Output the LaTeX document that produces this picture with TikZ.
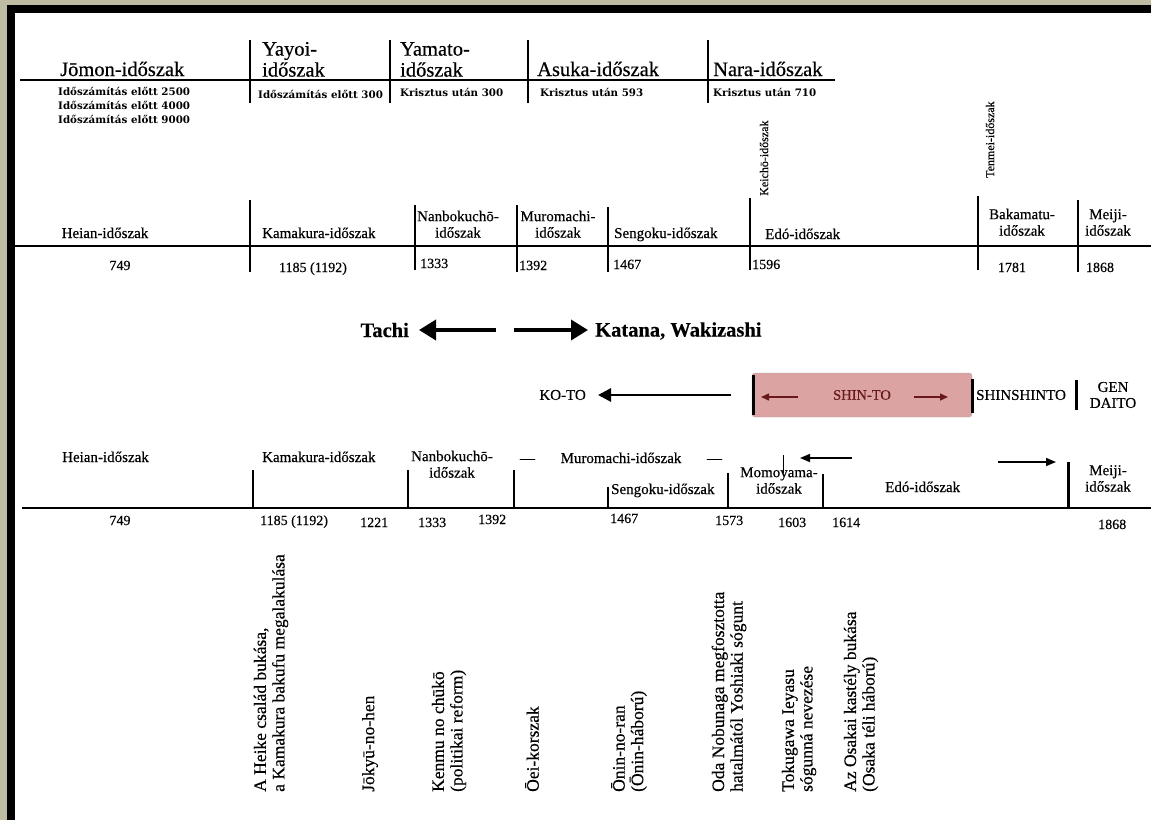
\documentclass[tikz,border=0pt]{standalone}
\usepackage{fontspec}
\setmainfont{Liberation Serif}[FakeBold=0.4]
\newfontfamily\datefont{DejaVu Serif}
\usetikzlibrary{arrows.meta}
\definecolor{frameolive}{RGB}{190,189,164}
\definecolor{shinpink}{RGB}{220,163,163}
\definecolor{shinrim}{RGB}{180,170,170}
\definecolor{shinred}{RGB}{105,25,25}

\tikzset{
  era/.style={font=\fontsize{20.5}{21}\selectfont, inner sep=0pt, align=left},
  datum/.style={font=\datefont\bfseries\fontsize{10.3}{14}\selectfont, inner sep=0pt, align=left},
  lbl/.style={font=\fontsize{15}{16.5}\selectfont, inner sep=0pt, align=center},
  yr/.style={font=\fontsize{14}{15}\selectfont, inner sep=0pt},
  vside/.style={font=\fontsize{12}{13}\selectfont, rotate=90, anchor=west, inner sep=0pt},
  vtxt/.style={font=\fontsize{17.5}{18.5}\selectfont, rotate=90, anchor=west, align=left, inner sep=0pt},
  sword/.style={font=\bfseries\fontsize{20.5}{22}\selectfont, inner sep=0pt},
  blade/.style={font=\fontsize{15}{16}\selectfont, inner sep=0pt, align=center},
  tline/.style={line width=2pt},
  sep/.style={line width=1.4pt},
  bar/.style={line width=3pt},
  bigarrow/.style={line width=3.6pt, -{Triangle[length=17pt,width=20pt]}},
  midarrow/.style={line width=2.8pt, -{Triangle[length=13pt,width=13pt]}},
  thinarrow/.style={line width=1.5pt, -{Triangle[length=10pt,width=8pt]}},
  redarrow/.style={line width=1.5pt, shinred, -{Triangle[length=8pt,width=7pt]}},
}

\begin{document}
\begin{tikzpicture}[x=1pt, y=-1pt]
  %%%%% FRAME %%%%%
  \useasboundingbox (0,0) rectangle (1151,820);
  \fill[frameolive] (0,0) rectangle (1151,820);
  \fill[black] (7,5) rectangle (1151,820);
  \fill[white] (15,13) rectangle (1151,820);

  %%%%% ERAS %%%%%
  \draw[tline] (20,80) -- (835,80);
  \foreach \x in {250,390,528,708}
    \draw[sep] (\x,40) -- (\x,103);

  \node[era, anchor=base west] (jomon) at (60,76) {Jōmon-időszak};
  \node[era, anchor=south west] (yayoi) at (262,77) {Yayoi-\\időszak};
  \node[era, anchor=south west] (yamato) at (400,77) {Yamato-\\időszak};
  \node[era, anchor=base west] (asuka) at (537,76) {Asuka-időszak};
  \node[era, anchor=base west] (nara) at (713,76) {Nara-időszak};

  \node[datum, anchor=north west] (djomon) at (58,87) {Időszámítás előtt 2500\\Időszámítás előtt 4000\\Időszámítás előtt 9000};
  \node[datum, anchor=north west] (dyayoi) at (258,90) {Időszámítás előtt 300};
  \node[datum, anchor=north west] (dyamato) at (400,88) {Krisztus után 300};
  \node[datum, anchor=north west] (dasuka) at (540,88) {Krisztus után 593};
  \node[datum, anchor=north west] (dnara) at (713,88) {Krisztus után 710};

  %%%%% TIMELINE 1 %%%%%
  \draw[tline] (15,246) -- (1151,246);
  \foreach \x/\a/\b in {250/200/272,415/205/270,517/205/272,608/207/272,750/198/270,978/196/270,1078/200/272}
    \draw[sep] (\x,\a) -- (\x,\b);

  \node[lbl, anchor=base] (heianA) at (105,238) {Heian-időszak};
  \node[lbl, anchor=base west] (kamakuraA) at (262,238) {Kamakura-időszak};
  \node[lbl, anchor=south] (nanbokuA) at (458,238) {Nanbokuchō-\\időszak};
  \node[lbl, anchor=south] (muroA) at (558,238) {Muromachi-\\időszak};
  \node[lbl, anchor=base west] (sengokuA) at (614,238) {Sengoku-időszak};
  \node[lbl, anchor=base west] (edoA) at (765,239) {Edó-időszak};
  \node[lbl, anchor=south] (bakaA) at (1022,236) {Bakamatu-\\időszak};
  \node[lbl, anchor=south] (meijiA) at (1108,236) {Meiji-\\időszak};
  \node[vside] (keicho) at (764,196) {Keichō-időszak};
  \node[vside] (tenmei) at (990,178) {Tenmei-időszak};

  \node[yr, anchor=base] (y749a) at (120,270) {749};
  \node[yr, anchor=base] (y1185a) at (313,272) {1185 (1192)};
  \node[yr, anchor=base west] (y1333a) at (420,268) {1333};
  \node[yr, anchor=base west] (y1392a) at (519,270) {1392};
  \node[yr, anchor=base west] (y1467a) at (613,269) {1467};
  \node[yr, anchor=base west] (y1596a) at (752,269) {1596};
  \node[yr, anchor=base] (y1781a) at (1012,272) {1781};
  \node[yr, anchor=base] (y1868a) at (1100,272) {1868};

  %%%%% SWORDS %%%%%
  \node[sword, anchor=east] (tachi) at (409,330) {Tachi};
  \node[sword, anchor=west] (katana) at (595,331) {Katana, Wakizashi};
  \coordinate (tachiend) at (496,330);
  \coordinate (katanaend) at (514,330);
  \draw[bigarrow, shorten >=10pt] (tachiend) -- (tachi.east |- tachiend);
  \draw[bigarrow, shorten >=7pt] (katanaend) -- (katana.west |- katanaend);

  \node[blade, anchor=east] (koto) at (586,395) {KO-TO};
  \coordinate (kotoend) at (731,395);
  \draw[midarrow, shorten >=12pt] (kotoend) -- (koto);

  \node[draw=shinrim, fill=shinpink, rounded corners=3pt, minimum width=220pt, minimum height=44pt,
        text=shinred, font=\fontsize{14.5}{15}\selectfont] (shinto) at (862,395) {SHIN-TO};
  \draw[bar] (753,375) -- (753,415);
  \draw[redarrow] (798,397) -- (761,397);
  \draw[redarrow] (914,397) -- (948,397);
  \draw[bar] (972,379) -- (972,413);
  \node[blade, anchor=west] (shinshin) at (976,395) {SHINSHINTO};
  \draw[bar] (1076,380) -- (1076,410);
  \node[blade] (gendaito) at (1113,395) {GEN\\DAITO};

  %%%%% TIMELINE 2 %%%%%
  \draw[tline] (22,508) -- (1151,508);
  \foreach \x/\a in {253/470,408/470,514/470,608/487,728/473,823/474}
    \draw[sep] (\x,\a) -- (\x,508);
  \draw[bar] (1068,462) -- (1068,508);
  \draw[line width=1pt] (783,455) -- (783,473);

  \node[lbl, anchor=base west] (heianB) at (62,462) {Heian-időszak};
  \node[lbl, anchor=base west] (kamakuraB) at (262,462) {Kamakura-időszak};
  \node[lbl, anchor=south] (nanbokuB) at (452,478) {Nanbokuchō-\\időszak};
  \node[lbl, anchor=base] (muroB) at (621,463) {\makebox[202pt]{—\hfill Muromachi-időszak\hfill —}};
  \node[lbl, anchor=base west] (sengokuB) at (611,494) {Sengoku-időszak};
  \node[lbl, anchor=south] (momoB) at (779,494) {Momoyama-\\időszak};
  \node[lbl, anchor=base west] (edoB) at (885,492) {Edó-időszak};
  \node[lbl, anchor=south] (meijiB) at (1108,492) {Meiji-\\időszak};
  \coordinate (edoleft) at (852,458);
  \coordinate (edoright) at (998,462);
  \draw[thinarrow] (edoleft) -- (800,458);
  \draw[thinarrow] (edoright) -- (1056,462);

  \node[yr, anchor=base] (y749b) at (120,525) {749};
  \node[yr, anchor=base west] (y1185b) at (260,525) {1185 (1192)};
  \node[yr, anchor=base west] (y1221b) at (360,527) {1221};
  \node[yr, anchor=base west] (y1333b) at (418,527) {1333};
  \node[yr, anchor=base west] (y1392b) at (478,524) {1392};
  \node[yr, anchor=base west] (y1467b) at (610,523) {1467};
  \node[yr, anchor=base west] (y1573b) at (715,525) {1573};
  \node[yr, anchor=base west] (y1603b) at (778,527) {1603};
  \node[yr, anchor=base west] (y1614b) at (832,527) {1614};
  \node[yr, anchor=base west] (y1868b) at (1098,529) {1868};

  %%%%% EVENTS %%%%%
  \node[vtxt] (heike) at (271,792) {A Heike család bukása,\\a Kamakura bakufu megalakulása};
  \node[vtxt] (jokyu) at (370,792) {Jōkyū-no-hen};
  \node[vtxt] (kenmu) at (449,792) {Kenmu no chūkō\\(politikai reform)};
  \node[vtxt] (oei) at (532,792) {Ōei-korszak};
  \node[vtxt] (onin) at (629,792) {Ōnin-no-ran\\(Ōnin-háború)};
  \node[vtxt] (oda) at (729,792) {Oda Nobunaga megfosztotta\\hatalmától Yoshiaki sógunt};
  \node[vtxt] (tokugawa) at (799,792) {Tokugawa Ieyasu\\sógunná nevezése};
  \node[vtxt] (osaka) at (861,792) {Az Osakai kastély bukása\\(Osaka téli háború)};
\end{tikzpicture}
\end{document}
